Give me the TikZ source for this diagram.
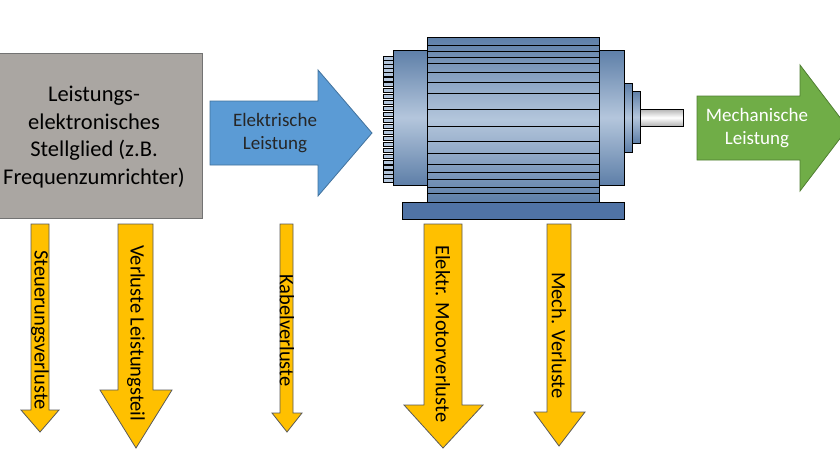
\documentclass[tikz,border=0pt]{standalone}
\usepackage{fontspec}
\setmainfont{Carlito}
\definecolor{steel}{HTML}{5E7FA8}
\definecolor{steellt}{HTML}{B4C6DC}
\definecolor{ygold}{HTML}{FFC000}
\begin{document}
\begin{tikzpicture}[x=1pt,y=-1pt,
  yarrow/.style={fill=ygold, draw=black!65, line width=0.8pt},
  ylabel/.style={rotate=-90, font=\fontsize{20.5}{22}\selectfont, anchor=west, inner sep=0pt},
  mot/.style={draw=black, line width=1pt},
  metal/.style={top color=steel, bottom color=steel, middle color=steellt, shading angle=0}]
\useasboundingbox (0,0) rectangle (840,450);
\begin{scope}
\clip (0,0) rectangle (840,450);
% gray box
\node[draw=black!55, line width=1pt, fill={rgb,255:red,170;green,166;blue,162}, minimum width=210pt, minimum height=165pt, inner sep=0pt] (conv) at (97,135.5) {};
\node[align=center, font=\fontsize{22.5}{27.5}\selectfont] (convt) at (94,137) {Leistungs-\\elektronisches\\Stellglied (z.B.\\Frequenzumrichter)};
% blue arrow
\path[fill={rgb,255:red,91;green,155;blue,213}, draw={rgb,255:red,65;green,113;blue,156}, line width=0.8pt] (210,101) -- (318,101) -- (318,70) -- (372,133) -- (318,196) -- (318,165) -- (210,165) -- cycle;
\node[align=center, text=black!85, font=\fontsize{19}{23}\selectfont] (el) at (275,133) {Elektrische\\Leistung};
% green arrow
\path[fill={rgb,255:red,112;green,173;blue,71}, draw={rgb,255:red,80;green,126;blue,50}, line width=0.8pt] (697,96) -- (800,96) -- (800,65) -- (848,128) -- (800,191) -- (800,160) -- (697,160) -- cycle;
\node[align=center, text=white, font=\fontsize{19}{23}\selectfont] (mech) at (757,128) {Mechanische\\Leistung};
% motor
\foreach \y in {56,60,64,68,72,77,82,88,94,100,106,112,118,124,130,136,142,148,154,160,165,170,174,178}
  \draw[mot, line width=0.8pt, fill=steellt] (383,\y) rectangle (393,\y+4);
\draw[mot, metal] (393,50) rectangle (427,185);
\draw[mot, metal] (599,50) rectangle (624,185);
\draw[mot, metal] (624,83) rectangle (632,152);
\draw[mot, metal] (632,91) rectangle (640,143);
\draw[mot, top color=gray!60, bottom color=gray!60, middle color=white] (640,109) rectangle (683,126);
\draw[mot, metal] (427,37) rectangle (599,202);
\foreach \y in {45,51,57,63,72,82,93,109,126,141,153,164,172,179,187,193}
  \draw[black, line width=1pt] (427,\y) -- (599,\y);
\draw[mot, fill={rgb,255:red,80;green,115;blue,165}] (402,202) rectangle (624,219);
\node[inner sep=0pt] (motor) at (511,128) {};
% yellow arrows
\path[yarrow] (31,224) -- (49,224) -- (49,410) -- (59,410) -- (40,432) -- (21,410) -- (31,410) -- cycle;
\node[ylabel] (t1) at (40,250) {Steuerungsverluste};
\path[yarrow] (118,224) -- (153,224) -- (153,390) -- (172,390) -- (136,448) -- (100,390) -- (118,390) -- cycle;
\node[ylabel] (t2) at (136,245) {Verluste Leistungsteil};
\path[yarrow] (280,224) -- (293,224) -- (293,413) -- (302,413) -- (287,432) -- (272,413) -- (280,413) -- cycle;
\node[ylabel] (t3) at (287,274) {Kabelverluste};
\path[yarrow] (424,224) -- (462,224) -- (462,405) -- (483,405) -- (443,448) -- (404,405) -- (424,405) -- cycle;
\node[ylabel] (t4) at (443,245) {Elektr. Motorverluste};
\path[yarrow] (547,224) -- (571,224) -- (571,412) -- (585,412) -- (559,446) -- (534,412) -- (547,412) -- cycle;
\node[ylabel] (t5) at (559,272) {Mech. Verluste};
\end{scope}
\end{tikzpicture}
\end{document}
